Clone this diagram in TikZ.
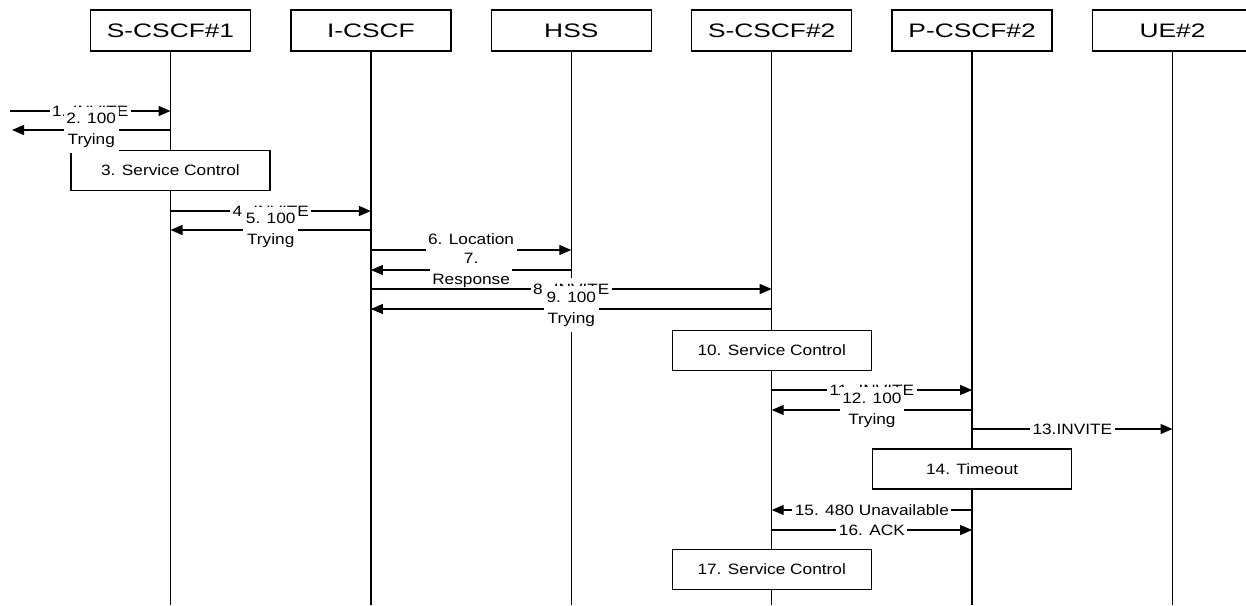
\documentclass[tikz,border=0pt]{standalone}
\usepackage{fontspec}
\setmainfont{Liberation Sans}
\newfontfamily\hdrfont[FakeStretch=1.35]{Liberation Sans}
\newfontfamily\msgfont[FakeStretch=1.15]{Liberation Sans}
\usetikzlibrary{positioning,arrows.meta}
\tikzset{
  ent/.style={draw,line width=1.3pt,minimum width=160pt,minimum height=41pt,inner sep=0pt,
    font=\hdrfont\fontsize{19.5}{22}\selectfont},
  lifeln/.style={line width=1.3pt},
  msgln/.style={-{Triangle[length=12pt,width=10pt]},line width=1.3pt},
  lbl/.style={fill=white,inner xsep=2.5pt,inner ysep=5.5pt,align=center,
    font=\msgfont\fontsize{15}{21}\selectfont},
  actbox/.style={draw,fill=white,line width=1.3pt,minimum width=199pt,minimum height=40pt,
    inner sep=0pt,font=\msgfont\fontsize{15}{17}\selectfont},
}

\begin{document}
\begin{tikzpicture}[x=1pt,y=-1pt]
  \useasboundingbox (0,0) rectangle (1246,605);
  % entities along the top
  \node[ent] (scscfa) at (170.5,30.5) {S-CSCF\#1};
  \node[ent,right=39.1pt of scscfa] (icscf) {I-CSCF};
  \node[ent,right=39.1pt of icscf] (hss) {HSS};
  \node[ent,right=39.1pt of hss] (scscfb) {S-CSCF\#2};
  \node[ent,right=39.1pt of scscfb] (pcscf) {P-CSCF\#2};
  \node[ent,right=39.1pt of pcscf] (ue) {UE\#2};
  % rows of the flow
  \coordinate (bot) at (0,605);
  \foreach \r/\y in {3/170.5,4/211,5/230,6/250,7/270,8/289,9/309,10/350.5,
                     11/390,12/410,13/429,14/469,15/510,16/530,17/569.5}
    \coordinate (r\r) at (0,\y);
  \coordinate (in1) at (10,111);
  \coordinate (out2) at (12,130);
  % lifelines
  \foreach \who in {scscfa,icscf,hss,scscfb,pcscf,ue}
    \draw[lifeln] (\who.south) -- (\who |- bot);
  % local actions
  \node[actbox] (svc3) at (scscfa |- r3) {3. Service Control};
  \node[actbox] (svc10) at (scscfb |- r10) {10. Service Control};
  \node[actbox] (tmo14) at (pcscf |- r14) {14. Timeout};
  \node[actbox] (svc17) at (scscfb |- r17) {17. Service Control};
  % messages
  \draw[msgln] (in1) -- (scscfa |- in1) node[lbl,midway] {1. INVITE};
  \draw[msgln] (scscfa |- out2) -- (out2) node[lbl,midway] {2. 100\\Trying};
  \draw[msgln] (scscfa |- r4) -- (icscf |- r4) node[lbl,midway] {4. INVITE};
  \draw[msgln] (icscf |- r5) -- (scscfa |- r5) node[lbl,midway] {5. 100\\Trying};
  \draw[msgln] (icscf |- r6) -- (hss |- r6) node[lbl,midway] {6. Location\\\mbox{}};
  \draw[msgln] (hss |- r7) -- (icscf |- r7) node[lbl,midway] {7.\\Response};
  \draw[msgln] (icscf |- r8) -- (scscfb |- r8) node[lbl,midway] {8. INVITE};
  \draw[msgln] (scscfb |- r9) -- (icscf |- r9) node[lbl,midway] {9. 100\\Trying};
  \draw[msgln] (scscfb |- r11) -- (pcscf |- r11) node[lbl,midway] {11. INVITE};
  \draw[msgln] (pcscf |- r12) -- (scscfb |- r12) node[lbl,midway] {12. 100\\Trying};
  \draw[msgln] (pcscf |- r13) -- (ue |- r13) node[lbl,midway] {13.INVITE};
  \draw[msgln] (pcscf |- r15) -- (scscfb |- r15) node[lbl,midway] {15. 480 Unavailable};
  \draw[msgln] (scscfb |- r16) -- (pcscf |- r16) node[lbl,midway] {16. ACK};
\end{tikzpicture}
\end{document}
